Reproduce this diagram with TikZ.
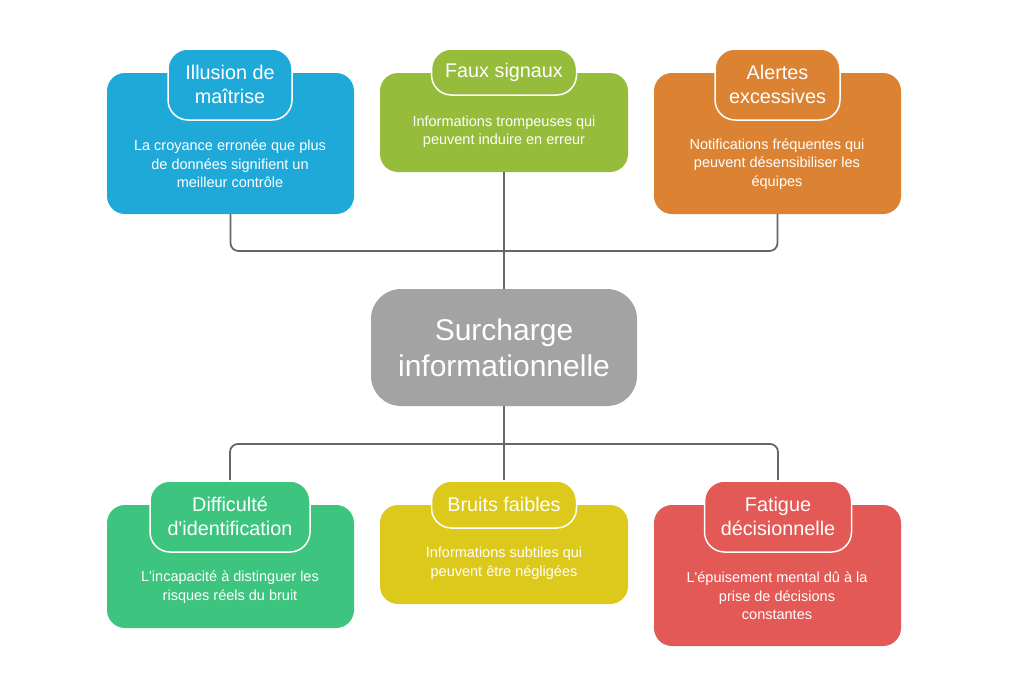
\documentclass[tikz,border=0pt]{standalone}
\usepackage{fontspec}
\setmainfont{Liberation Sans}
\usepackage{tikz}
\usetikzlibrary{backgrounds}

\definecolor{cblue}{HTML}{1FA9D8}
\definecolor{colive}{HTML}{95BC3B}
\definecolor{corange}{HTML}{DB8333}
\definecolor{cgreen}{HTML}{3DC47F}
\definecolor{cyellow}{HTML}{DCC91B}
\definecolor{cred}{HTML}{E35955}
\definecolor{cgray}{HTML}{A3A3A3}
\definecolor{cline}{HTML}{666666}

\begin{document}
\begin{tikzpicture}[
  x=1pt, y=-1pt,
  card/.style={rounded corners=18pt, inner sep=0pt},
  tab/.style={draw=white, line width=1.5pt, rounded corners=20pt, inner sep=0pt,
    text=white, align=center, font=\fontsize{19.8}{24}\selectfont},
  desc/.style={text=white, align=center, inner sep=0pt, font=\fontsize{14.5}{18.5}\selectfont},
  hubbox/.style={fill=cgray, rounded corners=30pt, minimum width=266pt, minimum height=117pt,
    text=white, align=center, font=\fontsize{30}{36}\selectfont},
  conn/.style={draw=cline, line width=1.8pt, rounded corners=8pt}
]
\useasboundingbox (0,0) rectangle (1009,696);

% centre
\node[hubbox] (hub) at (504,347.5) {Surcharge\\informationnelle};

% top row
\node[card, fill=cblue, minimum width=247pt, minimum height=141pt] (b1) at (230.5,143.5) {};
\node[tab, fill=cblue, minimum width=124pt, minimum height=71pt] (t1) at (230,84.5) {Illusion de\\maîtrise};
\node[desc] (d1) at (230,164) {La croyance erronée que plus\\de données signifient un\\meilleur contrôle};

\node[card, fill=colive, minimum width=248pt, minimum height=99pt] (b2) at (504,122.5) {};
\node[tab, fill=colive, minimum width=145pt, minimum height=46pt] (t2) at (504,72) {Faux signaux};
\node[desc] (d2) at (504,131.5) {Informations trompeuses qui\\peuvent induire en erreur};

\node[card, fill=corange, minimum width=247pt, minimum height=141pt] (b3) at (777.5,143.5) {};
\node[tab, fill=corange, minimum width=125pt, minimum height=71pt] (t3) at (777.5,84.5) {Alertes\\excessives};
\node[desc] (d3) at (777,164) {Notifications fréquentes qui\\peuvent désensibiliser les\\équipes};

% bottom row
\node[card, fill=cgreen, minimum width=247pt, minimum height=123pt] (b4) at (230.5,566.5) {};
\node[tab, fill=cgreen, minimum width=160pt, minimum height=71pt] (t4) at (230,516.5) {Difficulté\\d\textquotesingle identification};
\node[desc] (d4) at (230,587) {L\textquotesingle incapacité à distinguer les\\risques réels du bruit};

\node[card, fill=cyellow, minimum width=248pt, minimum height=99pt] (b5) at (504,554.5) {};
\node[tab, fill=cyellow, minimum width=145pt, minimum height=47pt] (t5) at (504,504.5) {Bruits faibles};
\node[desc] (d5) at (504,563) {Informations subtiles qui\\peuvent être négligées};

\node[card, fill=cred, minimum width=247pt, minimum height=141pt] (b6) at (777.5,575.5) {};
\node[tab, fill=cred, minimum width=147pt, minimum height=71pt] (t6) at (778,516.5) {Fatigue\\décisionnelle};
\node[desc] (d6) at (777,596) {L\textquotesingle épuisement mental dû à la\\prise de décisions\\constantes};

% connectors
\coordinate (topjoin) at (504,251);
\coordinate (botjoin) at (504,444);
\begin{scope}[on background layer]
\draw[conn] (b1.south) |- (topjoin) -| (b3.south);
\draw[conn] (b2.south) -- (hub.north);
\draw[conn] (t4.north) |- (botjoin) -| (t6.north);
\draw[conn] (hub.south) -- (t5.north);
\end{scope}
\end{tikzpicture}
\end{document}
